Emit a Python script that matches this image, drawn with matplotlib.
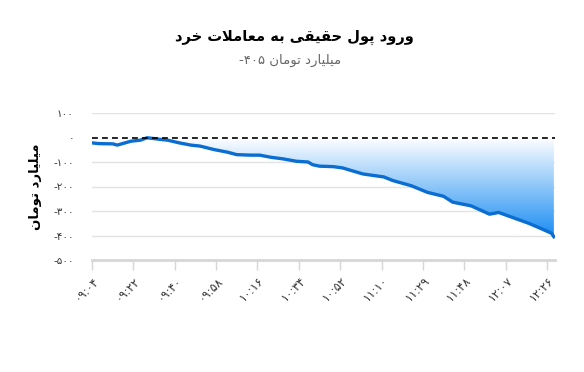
import numpy as np
import matplotlib
matplotlib.use("Agg")
import matplotlib.pyplot as plt
from matplotlib.patches import PathPatch

# ---------------- data ----------------
title_text = "ورود پول حقیقی به معاملات خرد"
subtitle_words = "میلیارد تومان"
subtitle_value = "-۴۰۵"
ylabel_text = "میلیارد تومان"

tick_labels = ["۰۹:۰۴", "۰۹:۲۲", "۰۹:۴۰", "۰۹:۵۸", "۱۰:۱۶", "۱۰:۳۴",
               "۱۰:۵۲", "۱۱:۱۰", "۱۱:۲۹", "۱۱:۴۸", "۱۲:۰۷", "۱۲:۲۶"]
tick_step = 18          # category points between labelled ticks
n_points = 202          # number of category points on the axis

y_ticks = [100, 0, -100, -200, -300, -400, -500]
y_tick_labels = ["۱۰۰", "۰", "-۱۰۰", "-۲۰۰", "-۳۰۰", "-۴۰۰", "-۵۰۰"]

point_index = [0, 3, 9, 11, 17, 21, 24, 30, 33, 38, 43, 47, 53, 59, 63, 69, 73,
               78, 83, 89, 94, 96, 99, 105, 109, 114, 118, 127, 131, 139, 146,
               153, 157, 165, 173, 177, 182, 190, 195, 200, 201]
flow_values = [-22, -25, -26, -31, -15, -11, -1, -8, -11, -22, -31, -35, -49,
               -60, -70, -72, -72, -81, -87, -97, -100, -111, -117, -119, -124,
               -138, -149, -161, -176, -197, -224, -240, -264, -279, -313, -306,
               -323, -350, -370, -391, -405]

# ---------------- minimal Persian shaping ----------------
FORMS = {
    '\u0627': ('\uFE8D', '\uFE8E', None, None),
    '\u0628': ('\uFE8F', '\uFE90', '\uFE91', '\uFE92'),
    '\u067E': ('\uFB56', '\uFB57', '\uFB58', '\uFB59'),
    '\u062A': ('\uFE95', '\uFE96', '\uFE97', '\uFE98'),
    '\u062D': ('\uFEA1', '\uFEA2', '\uFEA3', '\uFEA4'),
    '\u062E': ('\uFEA5', '\uFEA6', '\uFEA7', '\uFEA8'),
    '\u062F': ('\uFEA9', '\uFEAA', None, None),
    '\u0631': ('\uFEAD', '\uFEAE', None, None),
    '\u0639': ('\uFEC9', '\uFECA', '\uFECB', '\uFECC'),
    '\u0642': ('\uFED5', '\uFED6', '\uFED7', '\uFED8'),
    '\u0644': ('\uFEDD', '\uFEDE', '\uFEDF', '\uFEE0'),
    '\u0645': ('\uFEE1', '\uFEE2', '\uFEE3', '\uFEE4'),
    '\u0646': ('\uFEE5', '\uFEE6', '\uFEE7', '\uFEE8'),
    '\u0647': ('\uFEE9', '\uFEEA', '\uFEEB', '\uFEEC'),
    '\u0648': ('\uFEED', '\uFEEE', None, None),
    '\u06CC': ('\uFBFC', '\uFBFD', '\uFBFE', '\uFBFF'),
}


def shape(text):
    out = []
    chars = list(text)
    i = 0
    while i < len(chars):
        c = chars[i]
        if c not in FORMS:
            out.append(c)
            i += 1
            continue
        prev = chars[i - 1] if i > 0 else None
        joins_prev = prev in FORMS and FORMS[prev][2] is not None
        if c == '\u0644' and i + 1 < len(chars) and chars[i + 1] == '\u0627':
            out.append('\uFEFC' if joins_prev else '\uFEFB')
            i += 2
            continue
        nxt = chars[i + 1] if i + 1 < len(chars) else None
        joins_next = FORMS[c][2] is not None and nxt in FORMS
        iso, fin, ini, med = FORMS[c]
        if joins_prev and joins_next:
            out.append(med)
        elif joins_prev:
            out.append(fin)
        elif joins_next:
            out.append(ini)
        else:
            out.append(iso)
        i += 1
    return ''.join(out)[::-1]


plt.rcParams['font.family'] = ['DejaVu Sans']

fig = plt.figure(figsize=(5.84, 3.72), dpi=100)
ax = fig.add_axes([92 / 584, 1 - 260 / 372, (555 - 92) / 584, (260 - 113) / 372])

x = np.array(point_index, dtype=float)
y = np.array(flow_values, dtype=float)

# gradient fill between the curve and zero
poly = ax.fill_between(x, y, 0, color='none', lw=0)
ymin = y.min()
grad = np.linspace(0, 1, 256).reshape(-1, 1)
top = np.array([1.0, 1.0, 1.0])
bot = np.array([0.10, 0.55, 0.95])
rgb = top[None, None, :] * (1 - grad[..., None]) + bot[None, None, :] * grad[..., None]
img = ax.imshow(rgb, extent=[x.min(), x.max(), ymin, 0], origin='upper',
                aspect='auto', zorder=1, interpolation='bilinear')
path = poly.get_paths()[0]
patch = PathPatch(path, transform=ax.transData, facecolor='none', edgecolor='none')
ax.add_patch(patch)
img.set_clip_path(patch)

ax.plot(x, y, color='#0a6dd2', lw=2.4, zorder=3, solid_joinstyle='round')
ax.axhline(0, color='black', lw=1.2, ls=(0, (3.5, 2.5)), zorder=4)

ax.set_xlim(0, n_points - 0.5)
ax.set_ylim(-500, 100)

for yt in y_ticks[:-1]:
    if yt != 0:
        ax.axhline(yt, color='#e3e3e3', lw=1, zorder=0)

for s in ['top', 'right', 'left']:
    ax.spines[s].set_visible(False)
ax.spines['bottom'].set_color('#d6d6d6')
ax.spines['bottom'].set_linewidth(2)

ax.set_yticks(y_ticks)
ax.set_yticklabels(y_tick_labels, fontsize=7.5, color='#333333')
ax.tick_params(axis='y', length=0, pad=13)

xt = [i * tick_step for i in range(len(tick_labels))]
ax.set_xticks(xt)
ax.set_xticklabels(tick_labels, rotation=45, ha='right', rotation_mode='anchor',
                   fontsize=8.5, color='#333333')
ax.tick_params(axis='x', length=7, color='#d6d6d6', width=1, pad=3)

fig.text(36 / 584, 1 - 187 / 372, shape(ylabel_text), rotation=90, ha='center',
         va='center', fontsize=9.5, fontweight='bold', color='black')

fig.text(294 / 584, 1 - 37 / 372, shape(title_text), ha='center', va='center',
         fontsize=10.5, fontweight='bold', color='black')
fig.text(290 / 584, 1 - 60 / 372, subtitle_value + " " + shape(subtitle_words),
         ha='center', va='center', fontsize=9.5, color='#666666')

fig.savefig('out.png', dpi=100, facecolor='white')
